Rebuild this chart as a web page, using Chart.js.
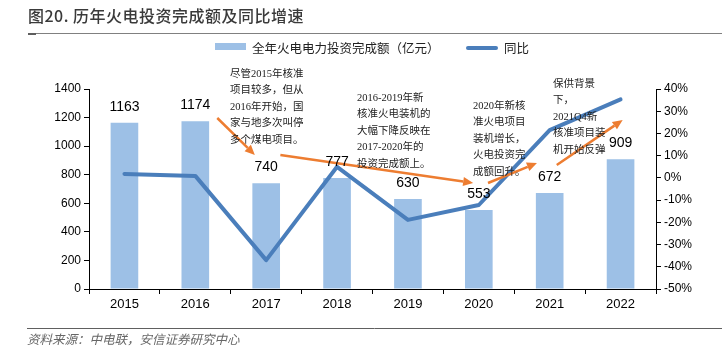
<!DOCTYPE html>
<html><head><meta charset="utf-8">
<script src="https://cdn.jsdelivr.net/npm/chart.js@4.4.0/dist/chart.umd.min.js"></script>
<style>
body{margin:0;background:#fff;width:724px;height:357px;overflow:hidden;position:relative;font-family:"Liberation Sans",Arial,sans-serif}
#wrap{position:absolute;left:0;top:0;width:724px;height:357px}
.t{position:absolute;white-space:nowrap}
.note{position:absolute;font-family:"Liberation Serif","Noto Sans CJK SC",serif;font-size:10.5px;line-height:16.4px;color:#222;white-space:nowrap}
</style></head><body>
<div id="wrap"><canvas id="c"></canvas></div>
<div class="t" style="left:28px;top:3px;font-family:'Noto Sans CJK SC';font-size:16px;letter-spacing:0.5px;color:#3a3a3a;font-weight:500">图20. 历年火电投资完成额及同比增速</div>
<div class="t" style="left:215px;top:43px;width:31px;height:7px;background:#9dc0e6"></div>
<div class="t" style="left:252px;top:38px;font-family:'Noto Sans CJK SC';font-size:12.5px;line-height:20px;color:#222">全年火电电力投资完成额（亿元）</div>
<div class="t" style="left:466px;top:46px;width:32px;height:4px;border-radius:2px;background:#4a7ebb"></div>
<div class="t" style="left:504px;top:38px;font-family:'Noto Sans CJK SC';font-size:12.5px;line-height:20px;color:#222">同比</div>
<div class="t" style="left:27px;top:330px;font-family:'Noto Sans CJK SC';font-size:12.5px;line-height:18px;font-style:italic;color:#666">资料来源：中电联，安信证券研究中心</div>
<div class="note" style="left:230px;top:66px">尽管2015年核准<br>项目较多，但从<br>2016年开始，国<br>家与地多次叫停<br>多个煤电项目。</div>
<div class="note" style="left:357px;top:90px">2016-2019年新<br>核准火电装机的<br>大幅下降反映在<br>2017-2020年的<br>投资完成额上。</div>
<div class="note" style="left:473px;top:98px">2020年新核<br>准火电项目<br>装机增长，<br>火电投资完<br>成额回升。</div>
<div class="note" style="left:553px;top:76px">保供背景<br>下，<br>2021Q4新<br>核准项目装<br>机开始反弹</div>
<script>
const categories = ['2015','2016','2017','2018','2019','2020','2021','2022'];
const investment = [1163, 1174, 740, 777, 630, 553, 672, 909];
const yoyGrowth = [1.8, 0.9, -37.0, 5.0, -18.9, -12.2, 21.5, 35.3];
const leftTicks = {min: 0, max: 1400, step: 200};
const rightTicks = {min: -50, max: 40, step: 10};

// annotation arrows in data space: [category index, left-axis value]
const arrowNotes = [
  {from: [1.31, 1197], to: [1.84, 938]},
  {from: [2.20, 938], to: [4.92, 742]},
  {from: [5.13, 742], to: [5.82, 882]},
  {from: [6.10, 868], to: [7.03, 1183]}
];

const frameLines = {
  id: 'frameLines',
  afterDraw(chart) {
    const ctx = chart.ctx;
    ctx.save();
    ctx.lineWidth = 1;
    ctx.strokeStyle = '#808080';
    ctx.beginPath(); ctx.moveTo(28, 33.5); ctx.lineTo(722, 33.5); ctx.stroke();
    ctx.strokeStyle = '#606060';
    ctx.beginPath(); ctx.moveTo(27, 328.5); ctx.lineTo(722, 328.5); ctx.stroke();
    ctx.fillStyle = '#5e5e5e'; ctx.fillRect(28, 33, 8, 2);
    ctx.restore();
  }
};

const arrowPlugin = {
  id: 'arrows',
  afterDatasetsDraw(chart) {
    const ctx = chart.ctx, xs = chart.scales.x, ys = chart.scales.y;
    const p0 = xs.getPixelForValue(0), p1 = xs.getPixelForValue(1);
    const px = i => p0 + i * (p1 - p0);
    ctx.save();
    ctx.strokeStyle = '#ed7d31'; ctx.fillStyle = '#ed7d31'; ctx.lineWidth = 2.5;
    arrowNotes.forEach(a => {
      const x1 = px(a.from[0]), y1 = ys.getPixelForValue(a.from[1]);
      const x2 = px(a.to[0]), y2 = ys.getPixelForValue(a.to[1]);
      const ang = Math.atan2(y2 - y1, x2 - x1);
      const L = 10, W = 4.5;
      const bx = x2 - L * Math.cos(ang), by = y2 - L * Math.sin(ang);
      ctx.beginPath(); ctx.moveTo(x1, y1); ctx.lineTo(bx, by); ctx.stroke();
      ctx.beginPath();
      ctx.moveTo(x2, y2);
      ctx.lineTo(bx + W * Math.sin(ang), by - W * Math.cos(ang));
      ctx.lineTo(bx - W * Math.sin(ang), by + W * Math.cos(ang));
      ctx.closePath(); ctx.fill();
    });
    ctx.restore();
  }
};

const labelPlugin = {
  id: 'barLabels',
  afterDraw(chart) {
    const meta = chart.getDatasetMeta(1);
    const ctx = chart.ctx;
    ctx.save();
    ctx.font = '14px "Liberation Sans", Arial, sans-serif';
    ctx.fillStyle = '#000'; ctx.textAlign = 'center'; ctx.textBaseline = 'middle';
    meta.data.forEach((bar, i) => {
      ctx.fillText(String(investment[i]), bar.x, bar.y - 16);
    });
    ctx.restore();
  }
};

const tickFont = {family: '"Liberation Sans", Arial, sans-serif', size: 12};

new Chart(document.getElementById('c'), {
  type: 'bar',
  data: {
    labels: categories,
    datasets: [
      {type: 'line', label: '同比', data: yoyGrowth, yAxisID: 'y1', borderColor: '#4a7ebb', borderWidth: 4,
       pointRadius: 0, tension: 0, order: 0, borderCapStyle: 'round', borderJoinStyle: 'round'},
      {type: 'bar', label: '全年火电电力投资完成额（亿元）', data: investment, yAxisID: 'y', backgroundColor: '#9dc0e6',
       categoryPercentage: 1, barPercentage: 0.39, order: 1}
    ]
  },
  options: {
    responsive: true, maintainAspectRatio: false, animation: false,
    layout: {padding: {left: 0, right: 0, top: 89, bottom: 0}},
    plugins: {legend: {display: false}, tooltip: {enabled: false}},
    scales: {
      x: {
        grid: {drawOnChartArea: false, drawTicks: true, tickLength: 5, color: '#000', offset: true},
        border: {color: '#000', width: 1},
        ticks: {color: '#000', font: {family: tickFont.family, size: 13}, padding: 3, maxRotation: 0},
        afterFit(s) { s.height = 68; }
      },
      y: {
        position: 'left', min: leftTicks.min, max: leftTicks.max,
        ticks: {stepSize: leftTicks.step, color: '#000', font: tickFont, padding: 3, callback: v => String(v)},
        grid: {drawOnChartArea: false, drawTicks: true, tickLength: 5, color: '#000'},
        border: {color: '#000', width: 1},
        afterFit(s) { s.width = 89; }
      },
      y1: {
        position: 'right', min: rightTicks.min, max: rightTicks.max,
        ticks: {stepSize: rightTicks.step, color: '#000', font: tickFont, padding: 3, callback: v => v + '%'},
        grid: {drawOnChartArea: false, drawTicks: true, tickLength: 5, color: '#000'},
        border: {color: '#000', width: 1},
        afterFit(s) { s.width = 68; }
      }
    }
  },
  plugins: [frameLines, arrowPlugin, labelPlugin]
});
</script>
</body></html>
